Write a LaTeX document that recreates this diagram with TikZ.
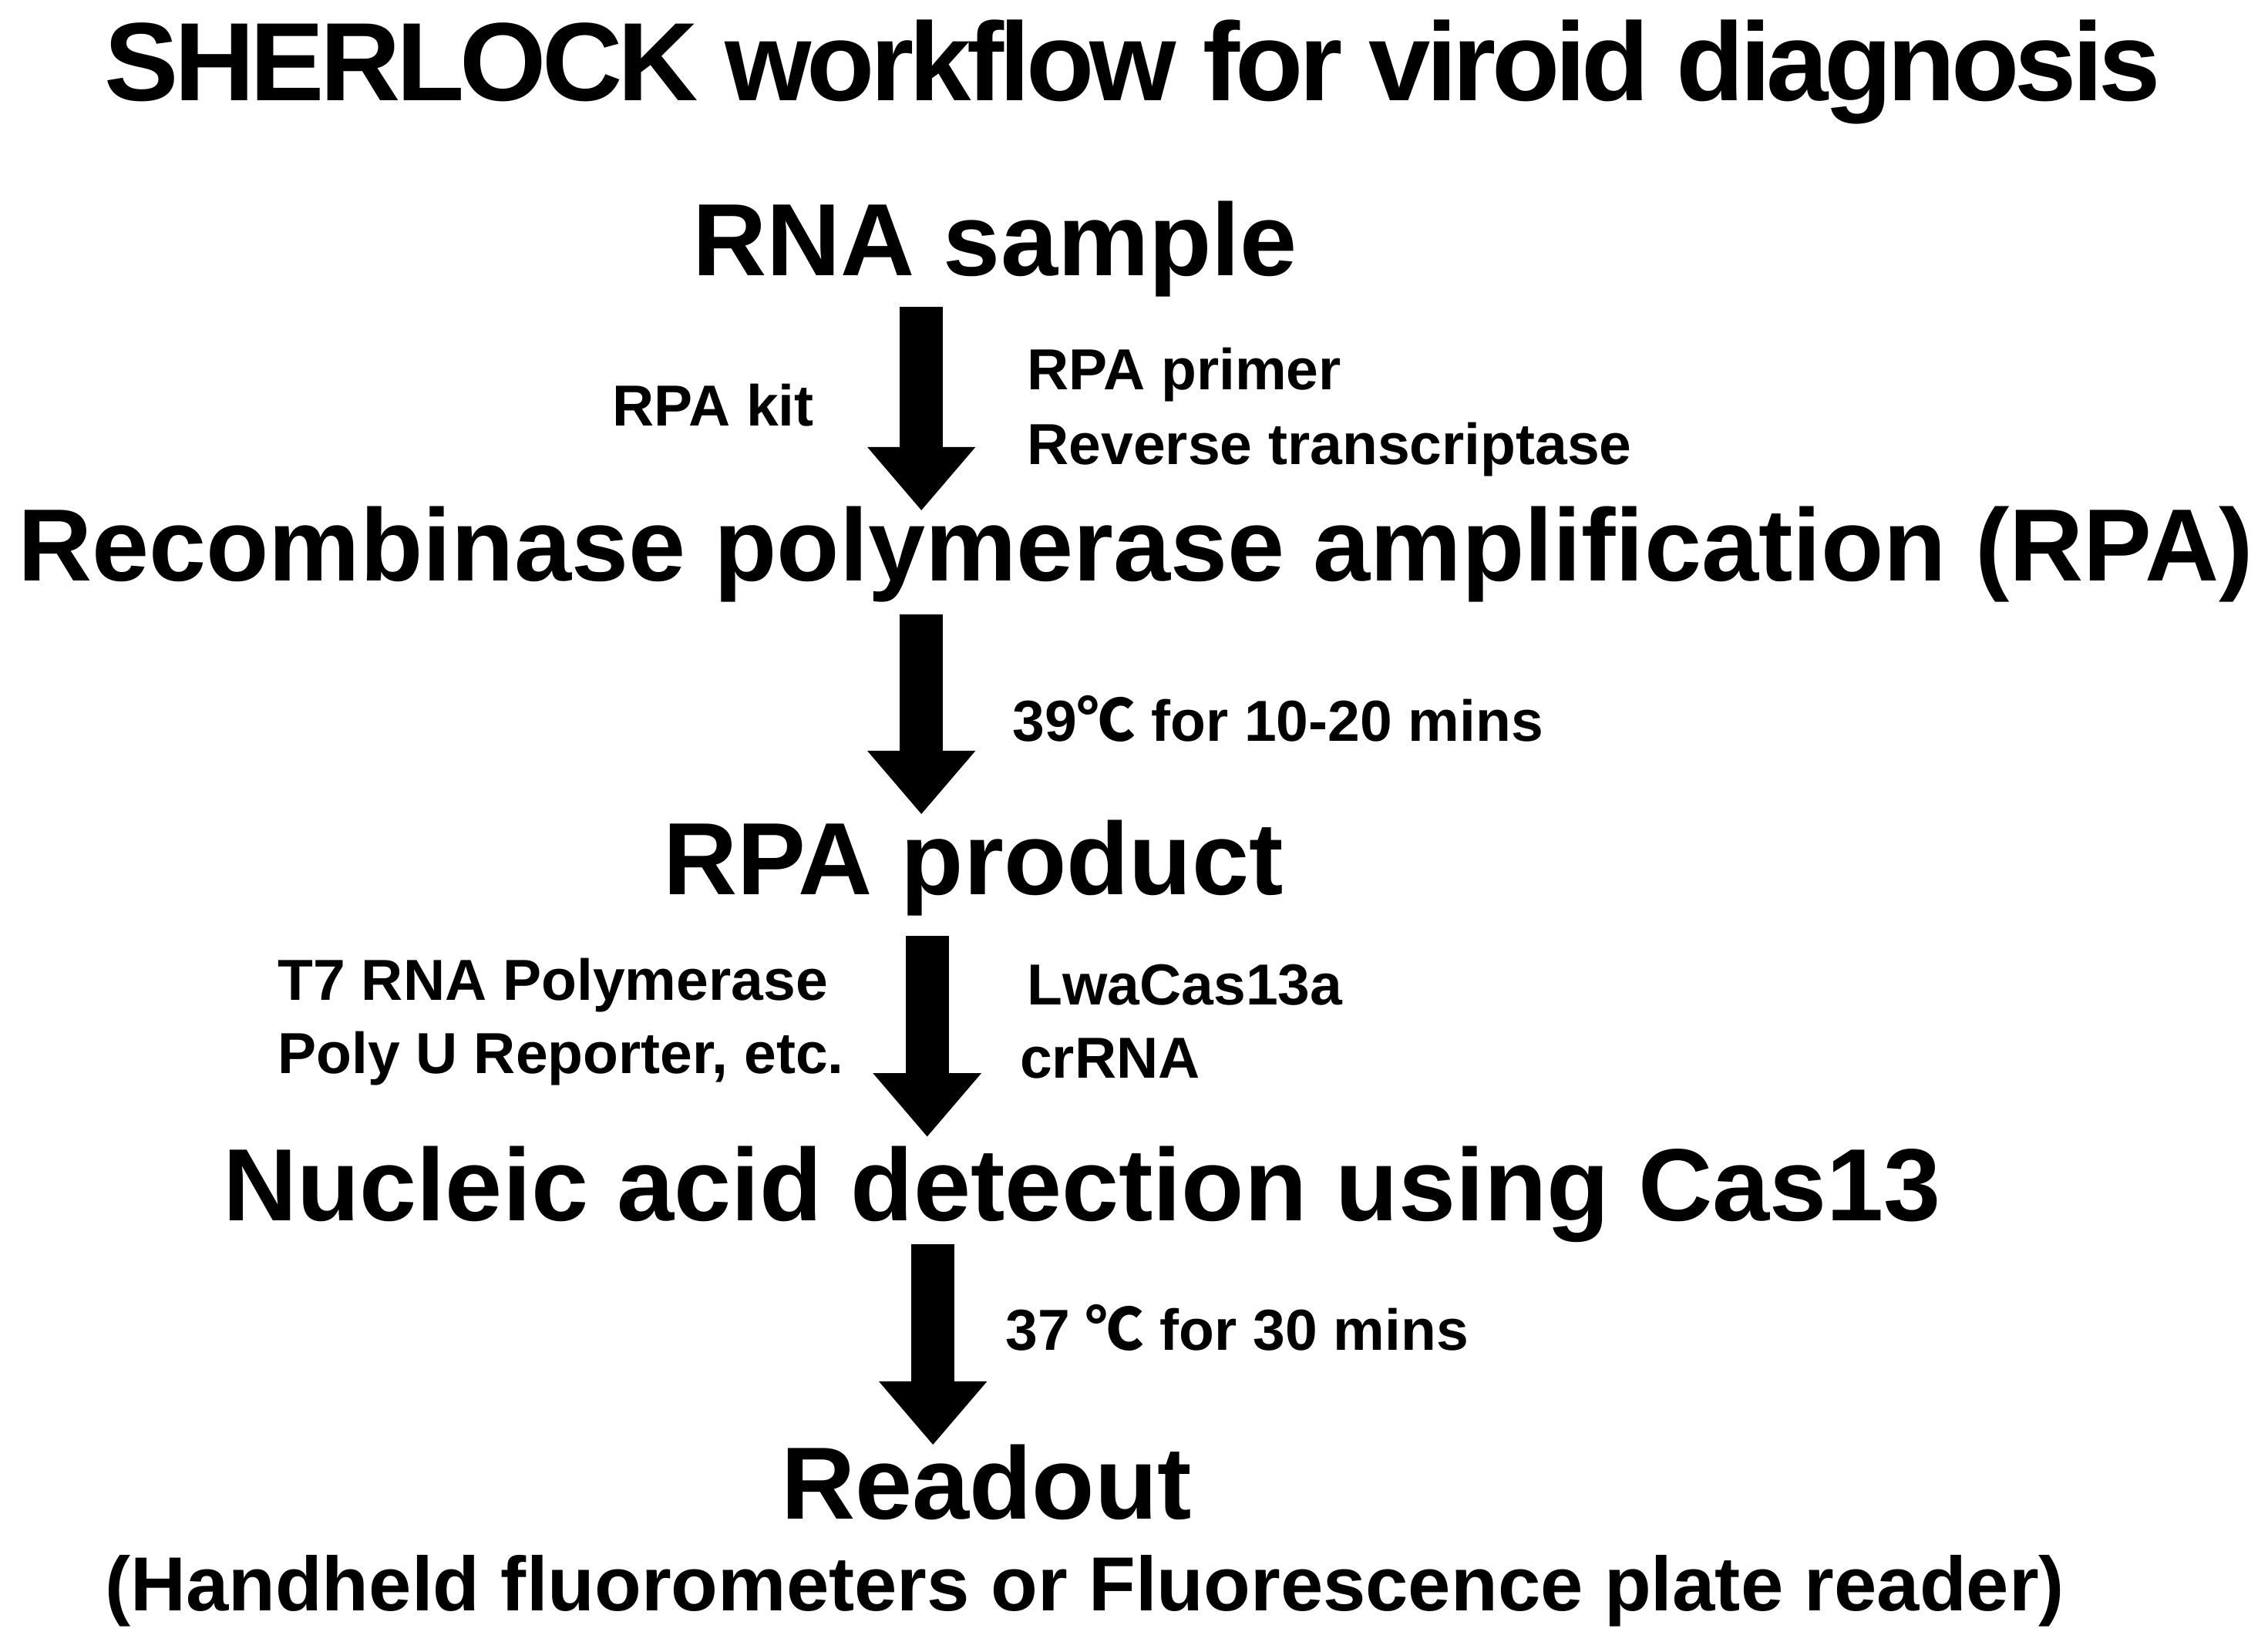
\documentclass[tikz,border=0pt]{standalone}
\usepackage{fontspec}
\setmainfont{Liberation Sans}
\newfontfamily\cjk{Noto Sans CJK SC}
\usetikzlibrary{arrows.meta}
\newcommand{\degc}{{\cjk\bfseries ℃}}
\begin{document}
\begin{tikzpicture}[x=1pt,y=-1pt,
  big/.style={font=\fontsize{71}{76}\selectfont\bfseries, inner sep=0pt},
  small/.style={font=\fontsize{40}{44}\selectfont\bfseries, inner sep=0pt},
  flow/.style={line width=30pt, -{Triangle[width=72pt,length=44pt]}}]
\useasboundingbox[fill=white] (0,0) rectangle (1568,1142);
\node[inner sep=0pt, font=\fontsize{77}{84}\selectfont\bfseries] (title) at (783,50) {\addfontfeature{LetterSpace=-4}SHERLOCK workflow for viroid diagnosis};
\node[big] (rna) at (688,172) {RNA sample};
\node[big] (rpa) at (785,383) {Recombinase polymerase amplification (RPA)};
\node[big] (prod) at (673,600) {RPA product};
\node[big] (nad) at (748,826) {Nucleic acid detection using Cas13};
\node[big] (read) at (682,1025) {Readout};
\node[inner sep=0pt, font=\fontsize{53}{58}\selectfont\bfseries] (hand) at (750,1100) {(Handheld fluorometers or Fluorescence plate reader)};
\coordinate (a1s) at (637,212); \coordinate (a1e) at (637,353);
\coordinate (a2s) at (637,425); \coordinate (a2e) at (637,563);
\coordinate (a3s) at (641,647); \coordinate (a3e) at (641,786);
\coordinate (a4s) at (645,860); \coordinate (a4e) at (645,999);
\draw[flow] (a1s) -- (a1e);
\draw[flow] (a2s) -- (a2e);
\draw[flow] (a3s) -- (a3e);
\draw[flow] (a4s) -- (a4e);
\node[small] (kit) at (493,280) {RPA kit};
\node[small, anchor=west] (prim) at (710,259) {RPA primer};
\node[small, anchor=west] (rt) at (710,311) {Reverse transcriptase};
\node[small, anchor=west] (t39) at (700,497) {39\degc{} for 10-20 mins};
\node[small, anchor=west] (t7) at (192,681) {T7 RNA Polymerase};
\node[small, anchor=west] (polyu) at (192,732) {Poly U Reporter, etc.};
\node[small, anchor=west] (lwa) at (710,681) {LwaCas13a};
\node[small, anchor=west] (cr) at (705,732) {crRNA};
\node[small, anchor=west] (t37) at (695,918) {37 \degc{} for 30 mins};
\end{tikzpicture}
\end{document}
